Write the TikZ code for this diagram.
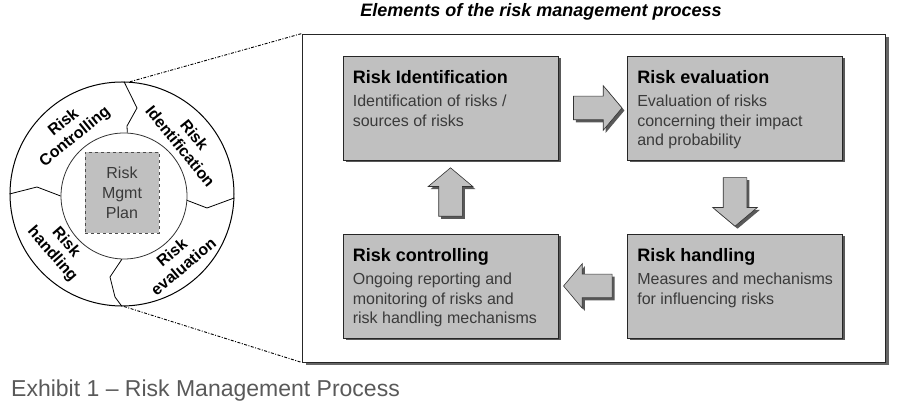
\documentclass[tikz,border=0pt]{standalone}
\usepackage{fontspec}
\setmainfont{Liberation Sans}
\usetikzlibrary{shapes.arrows,shadows,calc}
\definecolor{boxgray}{HTML}{C0C0C0}
\definecolor{captgray}{HTML}{595959}
\definecolor{textgray}{HTML}{3A3A3A}

\begin{document}
\begin{tikzpicture}[x=1pt,y=1pt,
	boxshadow/.style={drop shadow={shadow xshift=2.5pt, shadow yshift=-2.5pt, fill=black!65, opacity=1}},
	procbox/.style={draw=black!85, line width=0.8pt, fill=boxgray, minimum width=215pt, minimum height=104pt, inner sep=0pt, boxshadow},
	boxhead/.style={anchor=base west, inner sep=0pt, font=\bfseries\fontsize{18}{20}\selectfont},
	boxtext/.style={anchor=north west, inner sep=0pt, align=left, text=textgray, font=\fontsize{16}{19.5}\selectfont},
	blockarrow/.style={single arrow, draw=black!80, line width=0.6pt, fill=boxgray, inner xsep=19pt, inner ysep=11.5pt, single arrow head extend=10.5pt, single arrow tip angle=100, boxshadow},
	vblockarrow/.style={blockarrow, inner xsep=11.5pt, inner ysep=19pt},
	ringlabel/.style={align=center, inner sep=0pt, font=\bfseries\fontsize{16}{18}\selectfont}]
	\useasboundingbox (0,0) rectangle (913,414);

	% title and caption
	\node[font=\bfseries\itshape\fontsize{18}{20}\selectfont] (title) at (541,402) {Elements of the risk management process};
	\node[anchor=base west, inner sep=0pt, text=captgray, font=\fontsize{23}{26}\selectfont] (capt) at (11,17) {Exhibit 1 – Risk Management Process};

	% the cycle
	\node[draw, line width=1pt, circle, minimum size=224pt, inner sep=0pt] (outer) at (122,220) {};
	\node[draw=black!80, line width=0.8pt, circle, minimum size=126pt, inner sep=0pt] (inner) at (124,218) {};
	\node[draw=black!70, dashed, fill=boxgray, minimum width=74pt, minimum height=81pt, inner sep=0pt, align=center, font=\fontsize{16}{20}\selectfont, text=textgray] (plan) at (122,221.5) {Risk\\Mgmt\\Plan};
	\draw[line width=0.8pt] (outer.89) -- (137,306) -- (127,288) -- (inner.87);
	\draw[line width=0.8pt] (inner.-4) -- (207,206) -- (outer.-2);
	\draw[line width=0.8pt] (inner.268) -- (110,137) -- (115,117) -- (outer.270);
	\draw[line width=0.8pt] (outer.180) -- (37,227) -- (inner.180);
	\node[ringlabel, rotate=39] (lctrl) at (69.5,284) {Risk\\Controlling};
	\node[ringlabel, rotate=-51] (lident) at (187.5,273.5) {Risk\\Identification};
	\node[ringlabel, rotate=40] (leval) at (177.5,154.5) {Risk\\evaluation};
	\node[ringlabel, rotate=-49] (lhandl) at (59,165.5) {Risk\\handling};

	% the process
	\node[draw=black!85, line width=0.8pt, fill=white, minimum width=583pt, minimum height=328pt, inner sep=0pt, drop shadow={shadow xshift=4pt, shadow yshift=-3pt, fill=black!60, opacity=1}] (main) at (593.5,216) {};
	\draw[line width=0.9pt, dash pattern=on 3pt off 1.5pt on 1pt off 1.5pt] (outer.86) -- (main.north west);
	\draw[line width=0.9pt, dash pattern=on 3pt off 1.5pt on 1pt off 1.5pt] (outer.271) -- (main.south west);

	\node[procbox] (ident) at (450.5,306) {};
	\node[procbox] (eval) at (735,306) {};
	\node[procbox] (ctrl) at (450.5,128) {};
	\node[procbox] (handl) at (735,128) {};

	\node[boxhead] (identh) at ($(ident.north west)+(10,-28)$) {Risk Identification};
	\node[boxtext] (identt) at ($(ident.north west)+(10,-39.5)$) {Identification of risks /\\sources of risks};
	\node[boxhead] (evalh) at ($(eval.north west)+(10,-28)$) {Risk evaluation};
	\node[boxtext] (evalt) at ($(eval.north west)+(10,-39.5)$) {Evaluation of risks\\concerning their impact\\and probability};
	\node[boxhead] (handlh) at ($(handl.north west)+(10,-28)$) {Risk handling};
	\node[boxtext] (handlt) at ($(handl.north west)+(10,-39.5)$) {Measures and mechanisms\\for influencing risks};
	\node[boxhead] (ctrlh) at ($(ctrl.north west)+(10,-28)$) {Risk controlling};
	\node[boxtext] (ctrlt) at ($(ctrl.north west)+(10,-39.5)$) {Ongoing reporting and\\monitoring of risks and\\risk handling mechanisms};

	\node[blockarrow] (arr1) at ($(ident.east)!0.5!(eval.west)$) {};
	\node[vblockarrow, shape border rotate=270] (arr2) at ($(eval.south)!0.5!(handl.north)$) {};
	\node[blockarrow, shape border rotate=180] (arr3) at ($(handl.west)!0.5!(ctrl.east)$) {};
	\node[vblockarrow, shape border rotate=90] (arr4) at ($(ctrl.north)!0.5!(ident.south)$) {};
\end{tikzpicture}
\end{document}
